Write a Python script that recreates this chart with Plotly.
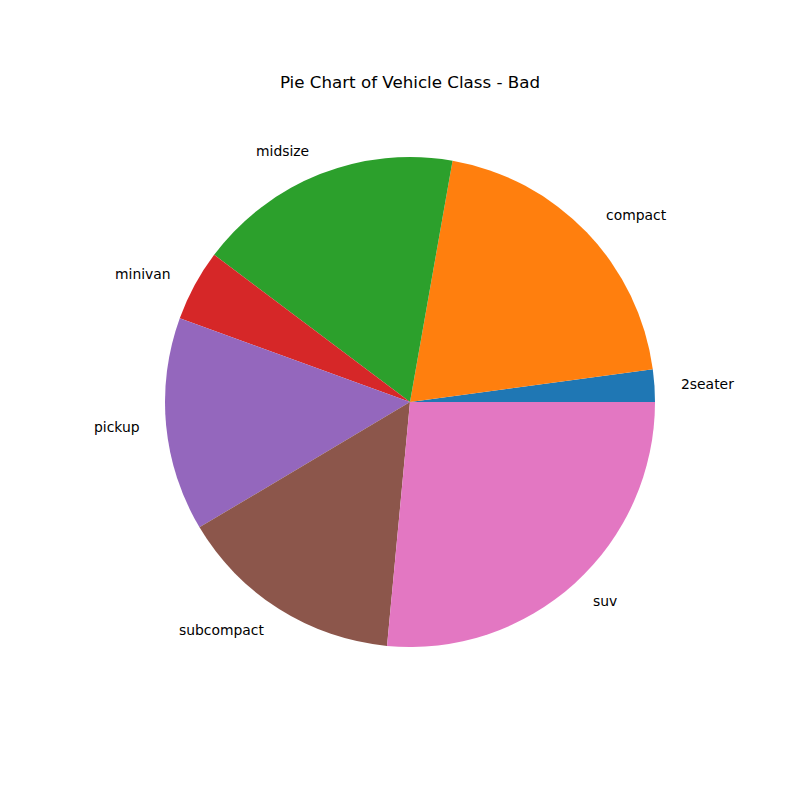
import math
import plotly.graph_objects as go

classes = ["2seater", "compact", "midsize", "minivan", "pickup", "subcompact", "suv"]
counts = [5, 47, 41, 11, 33, 35, 62]
colors = ["#1f77b4", "#ff7f0e", "#2ca02c", "#d62728", "#9467bd", "#8c564b", "#e377c2"]

W, H = 800, 797
cx, cy, r = 410, 402, 245
total = sum(counts)

fig = go.Figure(go.Pie(
    labels=classes, values=counts, sort=False, direction="counterclockwise",
    rotation=90 - 360 * counts[0] / total,
    marker=dict(colors=colors, line=dict(width=0)),
    textinfo="none", hoverinfo="label+value", showlegend=False,
    domain=dict(x=[(cx - r) / W, (cx + r) / W], y=[1 - (cy + r) / H, 1 - (cy - r) / H]),
))

cum = 0
annotations = []
for name, v in zip(classes, counts):
    mid = 2 * math.pi * (cum + v / 2) / total
    cum += v
    px = cx + 1.1 * r * math.cos(mid)
    py = cy - 1.1 * r * math.sin(mid)
    annotations.append(dict(
        x=px / W, y=1 - py / H, xref="paper", yref="paper", text=name, showarrow=False,
        xanchor="left" if math.cos(mid) > 0 else "right", yanchor="middle",
        font=dict(family="DejaVu Sans", size=13.9, color="black"),
    ))

fig.update_layout(
    width=W, height=H, margin=dict(l=0, r=0, t=0, b=0),
    paper_bgcolor="white", plot_bgcolor="white",
    title=dict(text="Pie Chart of Vehicle Class - Bad", x=0.5125, xanchor="center",
               y=1 - 82 / H, yanchor="middle",
               font=dict(family="DejaVu Sans", size=16.7, color="black")),
    annotations=annotations,
)
fig.write_html("out.html", post_script="document.body.style.margin='0';",
               config={"displayModeBar": False})
